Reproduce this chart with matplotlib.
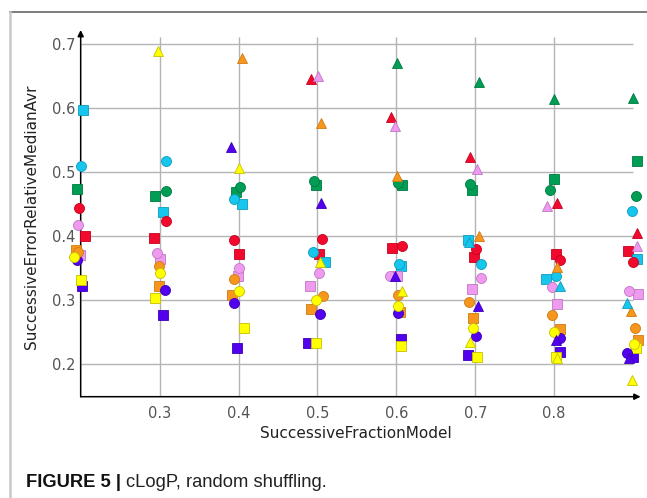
import numpy as np
import matplotlib.pyplot as plt

nan = np.nan

# x tick positions and labels
xticks = [0.3, 0.4, 0.5, 0.6, 0.7, 0.8]
yticks = [0.2, 0.3, 0.4, 0.5, 0.6, 0.7]

# squares
red_sq_x = [0.206, 0.2924, 0.400, 0.5025, 0.595, 0.6983, 0.8021, 0.8937]
red_sq_y = [0.401, 0.3964, 0.3719, 0.3714, 0.3813, 0.3677, 0.3714, 0.3771]
orange_sq_x = [0.194, 0.2996, 0.392, 0.492, 0.6042, 0.6971, 0.8076, 0.9059]
orange_sq_y = [0.378, 0.3214, 0.3078, 0.2859, 0.282, 0.2724, 0.2542, 0.237]
yellow_sq_x = [0.201, 0.2945, 0.4072, 0.498, 0.6055, 0.7021, 0.8025, 0.904]
yellow_sq_y = [0.332, 0.3031, 0.2568, 0.2323, 0.2276, 0.2109, 0.2104, 0.225]
green_sq_x = [0.1958, 0.2945, 0.3962, 0.498, 0.6071, 0.6958, 0.7992, 0.9046]
green_sq_y = [0.4745, 0.4635, 0.4693, 0.4802, 0.4802, 0.4724, 0.4896, 0.5182]
cyan_sq_x = [0.2034, 0.3038, 0.4042, 0.5093, 0.6055, 0.6903, 0.7899, 0.9055]
cyan_sq_y = [0.597, 0.4385, 0.45, 0.3604, 0.3526, 0.3938, 0.3328, 0.3646]
blue_sq_x = [0.202, 0.3046, 0.3979, 0.4878, 0.6055, 0.6912, 0.808, 0.9004]
blue_sq_y = [0.322, 0.2766, 0.2255, 0.2323, 0.2396, 0.2146, 0.2182, 0.2104]
violet_sq_x = [0.199, 0.301, 0.399, 0.4911, 0.601, 0.6958, 0.803, 0.9063]
violet_sq_y = [0.371, 0.364, 0.338, 0.3224, 0.337, 0.3167, 0.2943, 0.3099]

# circles
red_ci_x = [0.198, 0.3076, 0.3941, 0.5063, 0.6067, 0.7013, 0.808, 0.8996]
red_ci_y = [0.444, 0.4245, 0.3938, 0.3953, 0.3854, 0.3797, 0.363, 0.3604]
orange_ci_x = [0.197, 0.2987, 0.3945, 0.5076, 0.6017, 0.6916, 0.7975, 0.903]
orange_ci_y = [0.3745, 0.353, 0.3333, 0.3057, 0.3083, 0.2969, 0.2766, 0.2568]
yellow_ci_x = [0.1916, 0.3004, 0.4008, 0.4987, 0.6025, 0.6966, 0.7996, 0.9013]
yellow_ci_y = [0.367, 0.3417, 0.3135, 0.300, 0.2901, 0.2557, 0.2495, 0.2318]
green_ci_x = [0.197, 0.3076, 0.4013, 0.4954, 0.6021, 0.6937, 0.7945, 0.9042]
green_ci_y = [nan, 0.471, 0.4766, 0.486, 0.4839, 0.4818, 0.4719, 0.4635]
cyan_ci_x = [0.2008, 0.3076, 0.3941, 0.4945, 0.6038, 0.7067, 0.8017, 0.8983]
cyan_ci_y = [0.509, 0.518, 0.4578, 0.375, 0.3568, 0.3563, 0.337, 0.4396]
blue_ci_x = [0.195, 0.3068, 0.3945, 0.5034, 0.6017, 0.7004, 0.8072, 0.8928]
blue_ci_y = [0.362, 0.3151, 0.2948, 0.2776, 0.2792, 0.2432, 0.2406, 0.2172]
violet_ci_x = [0.196, 0.2966, 0.4, 0.5021, 0.592, 0.7071, 0.797, 0.8954]
violet_ci_y = [0.418, 0.374, 0.3505, 0.3417, 0.337, 0.3349, 0.3203, 0.3146]

# triangles (nan = off the plot range / not visible)
red_tr_x = [0.2, 0.3, 0.4, 0.4924, 0.5929, 0.6929, 0.803, 0.9046]
red_tr_y = [nan, nan, nan, 0.6464, 0.5859, 0.5234, 0.4526, 0.4052]
orange_tr_x = [0.2, 0.3, 0.4038, 0.5042, 0.6004, 0.7042, 0.8034, 0.897]
orange_tr_y = [nan, nan, 0.678, 0.5766, 0.4948, 0.401, 0.3516, 0.2823]
yellow_tr_x = [0.2, 0.2975, 0.4008, 0.5029, 0.6067, 0.6929, 0.8034, 0.8992]
yellow_tr_y = [nan, 0.690, 0.5073, 0.3594, 0.3135, 0.2344, 0.2094, 0.1755]
green_tr_x = [0.2, 0.3, 0.4, 0.5, 0.6013, 0.705, 0.7992, 0.8996]
green_tr_y = [nan, nan, nan, nan, 0.6714, 0.6406, 0.6141, 0.6156]
cyan_tr_x = [0.2, 0.3, 0.4, 0.5, 0.6, 0.692, 0.8068, 0.892]
cyan_tr_y = [nan, nan, nan, nan, nan, 0.3906, 0.3224, 0.2953]
blue_tr_x = [0.2, 0.3, 0.3911, 0.5042, 0.5987, 0.7034, 0.8021, 0.8954]
blue_tr_y = [nan, nan, 0.54, 0.4516, 0.337, 0.2911, 0.2375, 0.2094]
violet_tr_x = [0.2, 0.3, 0.4, 0.5013, 0.5987, 0.7017, 0.7911, 0.9055]
violet_tr_y = [nan, nan, nan, 0.6505, 0.5729, 0.5047, 0.4469, 0.3839]

colors = {"red": ("#F20A2E", "#C4001E"), "orange": ("#F7961C", "#CF7A12"),
          "yellow": ("#FFFF00", "#C6C200"), "green": ("#009E55", "#00783F"),
          "cyan": ("#16C6EC", "#0C9CBE"), "blue": ("#5200EE", "#3A00B8"),
          "violet": ("#EE9AEE", "#C274C6")}

squares = [("blue", blue_sq_x, blue_sq_y), ("red", red_sq_x, red_sq_y),
           ("orange", orange_sq_x, orange_sq_y), ("green", green_sq_x, green_sq_y),
           ("cyan", cyan_sq_x, cyan_sq_y), ("violet", violet_sq_x, violet_sq_y),
           ("yellow", yellow_sq_x, yellow_sq_y)]
circles = [("blue", blue_ci_x, blue_ci_y), ("red", red_ci_x, red_ci_y),
           ("orange", orange_ci_x, orange_ci_y), ("green", green_ci_x, green_ci_y),
           ("cyan", cyan_ci_x, cyan_ci_y), ("violet", violet_ci_x, violet_ci_y),
           ("yellow", yellow_ci_x, yellow_ci_y)]
triangles = [("blue", blue_tr_x, blue_tr_y), ("red", red_tr_x, red_tr_y),
             ("orange", orange_tr_x, orange_tr_y), ("green", green_tr_x, green_tr_y),
             ("cyan", cyan_tr_x, cyan_tr_y), ("violet", violet_tr_x, violet_tr_y),
             ("yellow", yellow_tr_x, yellow_tr_y)]

fig = plt.figure(figsize=(6.47, 4.98), dpi=100)
ax = fig.add_axes([0.1247, 0.2034, 0.8654, 0.7364])
ax.set_xlim(0.2, 0.9095)
ax.set_ylim(0.149, 0.7224)
for s in ax.spines.values():
    s.set_visible(False)
ax.patch.set_alpha(0)

# grid, only over the data area
ax.hlines(yticks, 0.2, 0.9, color="#b4b4b4", lw=1.0, zorder=0)
ax.vlines(xticks, 0.149, 0.712, color="#b4b4b4", lw=1.0, zorder=0)

# axes with arrows
ax.annotate("", xy=(1, 0), xytext=(0, 0), xycoords="axes fraction",
            arrowprops=dict(arrowstyle="-|>", color="black", lw=1.1, mutation_scale=9,
                            shrinkA=0, shrinkB=0), zorder=1)
ax.annotate("", xy=(0, 1), xytext=(0, 0), xycoords="axes fraction",
            arrowprops=dict(arrowstyle="-|>", color="black", lw=1.1, mutation_scale=9,
                            shrinkA=0, shrinkB=0), zorder=1)

for name, xs, ys in squares:
    ax.plot(xs, ys, "s", ms=6.9, mfc=colors[name][0], mec=colors[name][1], mew=0.6,
            ls="none", zorder=3, clip_on=False)
for name, xs, ys in circles:
    ax.plot(xs, ys, "o", ms=7.2, mfc=colors[name][0], mec=colors[name][1], mew=0.6,
            ls="none", zorder=3, clip_on=False)
for name, xs, ys in triangles:
    ax.plot(xs, ys, "^", ms=7.6, mfc=colors[name][0], mec=colors[name][1], mew=0.6,
            ls="none", zorder=3, clip_on=False)

ax.set_xticks(xticks)
ax.set_xticklabels(["0.3", "0.4", "0.5", "0.6", "0.7", "0.8"])
ax.set_yticks(yticks)
ax.set_yticklabels(["0.2", "0.3", "0.4", "0.5", "0.6", "0.7"])
ax.tick_params(length=0, labelsize=10.5, labelcolor="#555555")
ax.tick_params(axis="x", pad=7)
ax.tick_params(axis="y", pad=4)

fig.text(356 / 647, 1 - 433 / 498, "SuccessiveFractionModel", ha="center", va="center",
         fontsize=11, color="#222222")
fig.text(32 / 647, 1 - 217 / 498, "SuccessiveErrorRelativeMedianAvr", ha="center",
         va="center", rotation=90, fontsize=11, color="#222222")

# frame of the figure panel
fig.add_artist(plt.Line2D([10 / 647, 1], [1 - 12 / 498] * 2, color="#666666", lw=1.2))
fig.add_artist(plt.Line2D([10 / 647] * 2, [0, 1 - 12 / 498], color="#c8c8c8", lw=1.8))

# caption
cap = fig.text(26 / 647, 1 - 482 / 498, "FIGURE 5 | ", fontsize=13.2, fontweight="bold",
               family="Liberation Sans", va="center", color="#111111")
fig.canvas.draw()
bb = cap.get_window_extent()
fig.text(bb.x1 / 647, 1 - 482 / 498, "cLogP, random shuffling.", fontsize=13.2,
         family="Liberation Sans", va="center", color="#222222")

fig.savefig("out.png", dpi=100)
